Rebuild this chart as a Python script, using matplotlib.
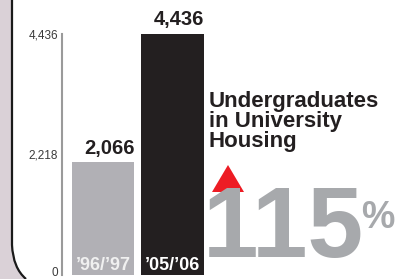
import matplotlib
matplotlib.use("Agg")
import matplotlib.pyplot as plt
import matplotlib.transforms as mtransforms
from matplotlib.patches import Polygon, PathPatch
from matplotlib.path import Path

# data
years = ["\u201996/\u201997", "\u201905/\u201906"]
values = [2066, 4436]
value_labels = ["2,066", "4,436"]
ticks = [0, 2218, 4436]
tick_labels = ["0", "2,218", "4,436"]
bar_colors = ["#b1b0b5", "#231f20"]
title = "Undergraduates\nin University\nHousing"
growth = "115"

W, H = 396, 279
FONT = ["Liberation Sans", "DejaVu Sans"]

fig = plt.figure(figsize=(W / 100, H / 100), dpi=100)
fig.patch.set_facecolor("white")


def fx(px):
    return px / W


def fy(py):
    return 1 - py / H


# left decorative strip with rounded corner
verts = [(0, 0), (12, 0), (12, 245), (13, 268), (26, 279), (0, 279), (0, 0)]
codes = [Path.MOVETO, Path.LINETO, Path.LINETO, Path.CURVE3, Path.CURVE3,
         Path.LINETO, Path.CLOSEPOLY]
strip = Path([(fx(x), fy(y)) for x, y in verts], codes)
fig.add_artist(PathPatch(strip, transform=fig.transFigure,
                         facecolor="#dad1d7", edgecolor="none"))
edge = Path([(fx(x), fy(y)) for x, y in verts[1:5]],
            [Path.MOVETO, Path.LINETO, Path.CURVE3, Path.CURVE3])
fig.add_artist(PathPatch(edge, transform=fig.transFigure,
                         facecolor="none", edgecolor="#1a1a1a", lw=1.6))

# bar chart axes
x0, x1 = 61.5, 210
ax = fig.add_axes([fx(x0), fy(274.5), fx(x1) - fx(x0), fy(34) - fy(274.5)])
ax.set_facecolor("none")
pos = [0, 1]
bw = 0.9
ax.bar(pos, values, width=bw, color=bar_colors, clip_on=False)
ax.set_xlim(-0.6, 1.54)
ax.set_ylim(0, 4436)
for s in ["top", "right", "bottom"]:
    ax.spines[s].set_visible(False)
ax.spines["left"].set_color("#9a9a9a")
ax.spines["left"].set_linewidth(1.5)
ax.set_xticks([])
ax.set_yticks(ticks)
ax.set_yticklabels(tick_labels, family=FONT, fontsize=8.5, color="#3a3a3a")
ax.tick_params(axis="y", length=0, pad=2.5)
# nudge the "0" label up a little so it stays inside the picture
zero = ax.get_yticklabels()[0]
zero.set_transform(zero.get_transform() +
                   mtransforms.ScaledTranslation(0, 2.5 / 100, fig.dpi_scale_trans))

# value labels sit flush with the right edge of each bar
for p, v, lab in zip(pos, values, value_labels):
    ax.text(p + bw / 2, v + 160, lab, ha="right", va="baseline", family=FONT,
            fontweight="bold", fontsize=14.5, color="#231f20")
for p, y, c in zip(pos, years, ["#f0f0f0", "#ffffff"]):
    ax.text(p, 90, y, ha="center", va="baseline", family=FONT,
            fontweight="bold", fontsize=13, color=c)

# title block (baseline of last line)
fig.text(fx(209), fy(147), title, ha="left", va="baseline", family=FONT,
         fontweight="bold", fontsize=16, color="#231f20", linespacing=0.95,
         multialignment="left")

# big gray number
fig.text(fx(203), fy(257), growth, ha="left", va="baseline", family=FONT,
         fontweight="bold", fontsize=72, color="#a7a9ac")
fig.text(fx(361), fy(228), "%", ha="left", va="baseline", family=FONT,
         fontweight="bold", fontsize=27, color="#a7a9ac")

# red up triangle
tri = [(212, 192), (244, 192), (228, 165)]
fig.add_artist(Polygon([(fx(x), fy(y)) for x, y in tri], closed=True,
                       transform=fig.transFigure, facecolor="#ed1c24",
                       edgecolor="none"))

fig.savefig("out.png", dpi=100)
